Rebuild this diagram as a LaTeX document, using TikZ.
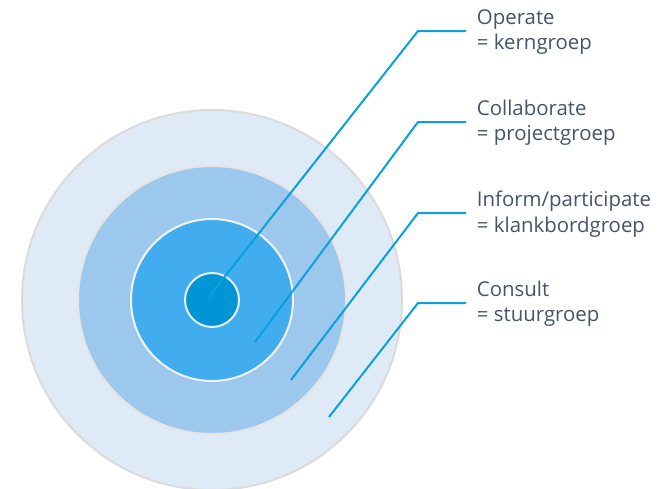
\documentclass[tikz,border=0pt]{standalone}
\usepackage{fontspec}
\setmainfont{Open Sans}
\usepackage{xcolor}
\usetikzlibrary{positioning}

\definecolor{ringA}{HTML}{DEEAF6}
\definecolor{ringB}{HTML}{9DC8EE}
\definecolor{ringC}{HTML}{41ADEE}
\definecolor{ringD}{HTML}{0096D6}
\definecolor{pointer}{HTML}{0AA0DE}
\definecolor{labeltext}{HTML}{44546A}

\tikzset{
  ring/.style={circle, draw=#1, line width=1.5pt, inner sep=0pt},
  lbl/.style={anchor=west, align=left, inner xsep=8pt, inner ysep=0pt,
    text=labeltext, font=\fontsize{15.3}{19}\selectfont},
  pointer/.style={draw=pointer, line width=1.5pt}
}

\begin{document}
\begin{tikzpicture}[x=0.75pt, y=-0.75pt]
                        \useasboundingbox (0,0) rectangle (661,489);
                        % rings
                        \node[ring=black!14, fill=ringA, minimum size=285pt] (consult) at (212,300) {};
                        \node[ring=black!10, fill=ringB, minimum size=201pt] (inform) at (212,300) {};
                        \node[ring=black!5, fill=ringC, minimum size=121.5pt] (collab) at (212,300) {};
                        \node[ring=black!7, fill=ringD, minimum size=40.5pt] (operate) at (212,300) {};
                        % labels
                        \node[lbl] (lop) at (466,32) {Operate\\= kerngroep};
                        \node[lbl] (lco) at (466,123) {Collaborate\\= projectgroep};
                        \node[lbl] (lin) at (466,214) {Inform/participate\\= klankbordgroep};
                        \node[lbl] (lcs) at (466,304) {Consult\\= stuurgroep};
                        % pointers
                        \coordinate (pop) at (208,298);
                        \coordinate (pco) at (255,342);
                        \coordinate (pin) at (291,380);
                        \coordinate (pcs) at (329,417);
                        \draw[pointer] (pop) -- (418,31) -- (lop.west |- 0,31);
                        \draw[pointer] (pco) -- (418,122) -- (lco.west |- 0,122);
                        \draw[pointer] (pin) -- (418,213) -- (lin.west |- 0,213);
                        \draw[pointer] (pcs) -- (418,303) -- (lcs.west |- 0,303);
                    \end{tikzpicture}
\end{document}
